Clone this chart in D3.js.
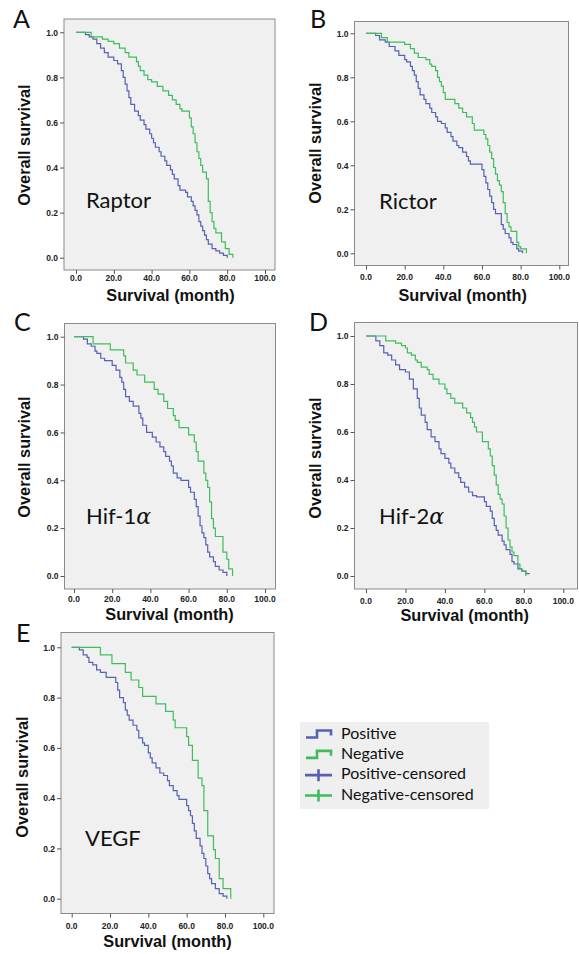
<!DOCTYPE html>
<html><head><meta charset="utf-8">
<script src="https://cdn.jsdelivr.net/npm/d3@7"></script>
<style>body{margin:0;background:#fff}svg{display:block}</style>
</head><body>
<svg id="c" width="579" height="954"></svg>
<script>
// ---------- data ----------
const panelLetters = ["A","B","C","D","E"];
const markerNames = ["Raptor","Rictor","Hif-1","Hif-2","VEGF"];
const xTicks = [0,20,40,60,80,100];
const yTicks = [0,0.2,0.4,0.6,0.8,1.0];
const legendLabels = ["Positive","Negative","Positive-censored","Negative-censored"];

const raptorPos = [[0,1],[5,0.99],[7,0.98],[9,0.97],[11,0.95],[13,0.93],[15,0.91],[17,0.89],[20,0.875],[22,0.86],[24,0.83],[25,0.80],[26,0.77],[27,0.74],[28,0.71],[29,0.68],[31,0.65],[33,0.63],[34,0.61],[36,0.59],[37,0.57],[39,0.55],[40,0.53],[41,0.51],[42,0.49],[44,0.47],[45,0.45],[47,0.43],[48,0.41],[50,0.39],[51,0.37],[52,0.35],[54,0.32],[55,0.30],[58,0.29],[59,0.27],[61,0.25],[62,0.23],[63,0.21],[64,0.19],[65,0.16],[66,0.14],[67,0.12],[68,0.10],[69,0.08],[70,0.06],[72,0.04],[74,0.03],[76,0.02],[78,0.01],[80,0.0]];
const raptorNeg = [[0,1],[8,0.98],[14,0.97],[17,0.96],[20,0.95],[23,0.93],[26,0.91],[28,0.89],[32,0.87],[33,0.85],[34,0.83],[36,0.81],[38,0.79],[40,0.78],[43,0.76],[46,0.74],[49,0.72],[51,0.70],[53,0.68],[55,0.66],[56,0.65],[60,0.62],[61,0.58],[62,0.55],[63,0.51],[64,0.47],[65,0.44],[66,0.41],[67,0.38],[69,0.35],[70,0.25],[71,0.20],[72,0.16],[73,0.13],[74,0.11],[77,0.07],[79,0.04],[81,0.015],[83,0.0]];
const rictorPos = [[0,1],[5,0.99],[7,0.97],[10,0.96],[12,0.94],[15,0.92],[17,0.90],[20,0.88],[21,0.87],[23,0.85],[24,0.83],[25,0.81],[26,0.78],[27,0.75],[28,0.72],[30,0.70],[31,0.68],[33,0.66],[34,0.64],[36,0.62],[37,0.60],[39,0.59],[41,0.57],[42,0.55],[44,0.53],[45,0.51],[47,0.49],[48,0.48],[50,0.46],[52,0.44],[53,0.42],[54,0.405],[60,0.38],[61,0.35],[62,0.32],[63,0.29],[64,0.26],[65,0.23],[66,0.20],[67,0.18],[70,0.13],[71,0.11],[72,0.09],[74,0.07],[75,0.05],[76,0.04],[78,0.02],[79,0.01],[81,0.0]];
const rictorNeg = [[0,1],[8,0.98],[11,0.96],[20,0.95],[23,0.93],[25,0.91],[27,0.89],[31,0.88],[33,0.86],[34,0.85],[36,0.83],[37,0.80],[38,0.78],[39,0.76],[40,0.73],[41,0.70],[46,0.68],[48,0.66],[50,0.64],[52,0.62],[55,0.59],[56,0.56],[61,0.54],[62,0.52],[63,0.49],[64,0.46],[65,0.43],[66,0.39],[67,0.36],[68,0.33],[69,0.31],[70,0.28],[71,0.23],[72,0.18],[73,0.14],[74,0.12],[75,0.10],[78,0.05],[79,0.03],[80,0.02],[83,0.0]];
const hif1Pos = [[0,1],[5,0.99],[7,0.97],[9,0.96],[11,0.94],[12,0.93],[14,0.91],[16,0.90],[20,0.88],[22,0.86],[24,0.83],[25,0.81],[26,0.78],[27,0.75],[29,0.73],[31,0.71],[34,0.68],[35,0.66],[36,0.63],[38,0.60],[41,0.58],[43,0.56],[45,0.54],[47,0.52],[48,0.50],[50,0.48],[51,0.46],[52,0.43],[54,0.41],[56,0.40],[60,0.37],[61,0.35],[63,0.32],[64,0.29],[65,0.25],[66,0.21],[67,0.18],[68,0.16],[69,0.13],[70,0.10],[71,0.08],[73,0.06],[74,0.04],[76,0.025],[78,0.015],[80,0.0]];
const hif1Neg = [[0,1],[10,0.97],[19,0.945],[26,0.92],[27,0.89],[31,0.86],[33,0.84],[37,0.81],[42,0.78],[44,0.76],[47,0.73],[49,0.70],[52,0.67],[53,0.65],[55,0.62],[60,0.59],[63,0.56],[64,0.52],[65,0.48],[68,0.43],[69,0.40],[70,0.37],[71,0.31],[72,0.24],[73,0.20],[74,0.165],[78,0.10],[80,0.07],[81,0.03],[83,0.0]];
const hif2Pos = [[0,1],[5,0.98],[7,0.96],[9,0.93],[11,0.92],[13,0.90],[15,0.88],[17,0.86],[20,0.85],[22,0.82],[24,0.78],[26,0.74],[27,0.70],[28,0.67],[30,0.64],[31,0.61],[33,0.58],[35,0.56],[37,0.53],[38,0.51],[40,0.49],[42,0.47],[43,0.45],[45,0.43],[47,0.41],[48,0.39],[50,0.37],[52,0.35],[54,0.335],[56,0.33],[60,0.31],[61,0.29],[63,0.27],[64,0.24],[65,0.21],[66,0.19],[67,0.17],[69,0.145],[70,0.13],[71,0.11],[73,0.09],[74,0.06],[75,0.05],[77,0.03],[79,0.02],[81,0.01],[83,0.01]];
const hif2Neg = [[0,1],[10,0.98],[15,0.97],[18,0.96],[20,0.95],[21,0.93],[23,0.92],[25,0.90],[26,0.89],[28,0.87],[31,0.86],[32,0.84],[34,0.82],[37,0.80],[40,0.78],[41,0.76],[43,0.74],[45,0.72],[49,0.70],[51,0.68],[53,0.66],[54,0.64],[55,0.62],[56,0.60],[59,0.56],[62,0.53],[63,0.50],[64,0.46],[65,0.42],[66,0.38],[67,0.34],[68,0.32],[69,0.30],[70,0.25],[71,0.20],[72,0.15],[73,0.12],[74,0.10],[75,0.085],[77,0.05],[78,0.03],[79,0.02],[81,0.0]];
const vegfPos = [[0,1],[4,0.99],[6,0.97],[8,0.96],[9,0.94],[11,0.93],[13,0.91],[15,0.90],[18,0.88],[23,0.86],[24,0.83],[25,0.80],[27,0.78],[28,0.75],[29,0.73],[30,0.71],[32,0.69],[34,0.67],[35,0.64],[37,0.62],[38,0.61],[40,0.58],[41,0.56],[42,0.54],[44,0.52],[46,0.50],[48,0.49],[50,0.47],[51,0.45],[53,0.43],[55,0.41],[56,0.395],[60,0.37],[61,0.35],[62,0.33],[63,0.30],[64,0.27],[65,0.24],[67,0.21],[68,0.18],[69,0.16],[70,0.13],[71,0.10],[72,0.08],[73,0.06],[75,0.04],[77,0.02],[79,0.01],[81,0.0]];
const vegfNeg = [[0,1],[15,0.97],[21,0.935],[28,0.90],[31,0.87],[35,0.84],[37,0.805],[44,0.775],[49,0.745],[53,0.71],[54,0.68],[60,0.645],[61,0.61],[63,0.55],[66,0.48],[68,0.45],[69,0.35],[71,0.25],[74,0.195],[75,0.16],[77,0.08],[79,0.04],[83,0.0]];

const positiveSeries = [raptorPos, rictorPos, hif1Pos, hif2Pos, vegfPos];
const negativeSeries = [raptorNeg, rictorNeg, hif1Neg, hif2Neg, vegfNeg];

// ---------- layout ----------
const BLUE = "#5660b4", GREEN = "#3fbd5c";
const layout = [
  {box:[64,19,275,270], x:[76,265], y:[257.7,32.3], tickY:281, titleY:301, ytX:26, ytY:145, lab:[13,28], txt:[86,208]},
  {box:[354.5,21.5,568.5,265.5], x:[366,559.3], y:[253.3,33.3], tickY:280, titleY:301, ytX:317, ytY:143, lab:[310,28], txt:[379,209]},
  {box:[64.5,323.5,275.5,589], x:[74,265], y:[576,336.7], tickY:602, titleY:620, ytX:26, ytY:457, lab:[14,331], txt:[86,524]},
  {box:[354.5,322.5,577.5,589], x:[366,563.3], y:[576,336], tickY:604, titleY:621, ytX:317, ytY:458, lab:[309,331], txt:[379,524]},
  {box:[61,632.5,274,913.5], x:[71.7,263.3], y:[898.7,647.3], tickY:929, titleY:947, ytX:24, ytY:777, lab:[16,642], txt:[85,846]}
];

const svg = d3.select("#c");
const fmt = d3.format(".1f");

panelLetters.forEach((L,i)=>{
  const lo = layout[i];
  const g = svg.append("g");
  const [x0,y0,x1,y1] = lo.box;
  g.append("rect").attr("x",x0).attr("y",y0).attr("width",x1-x0).attr("height",y1-y0)
    .attr("fill","#f0f0f0").attr("stroke","#8a8a8a").attr("stroke-width",1);
  const xs = d3.scaleLinear().domain([0,100]).range(lo.x);
  const ys = d3.scaleLinear().domain([0,1]).range(lo.y);

  const xa = g.append("g").attr("transform",`translate(0,${y1})`)
    .call(d3.axisBottom(xs).tickValues(xTicks).tickFormat(fmt).tickSize(4).tickPadding(3));
  xa.select(".domain").remove();
  xa.selectAll("line").attr("stroke","#555");
  xa.selectAll("text").remove();
  xTicks.forEach(t=>{
    g.append("text").attr("x",xs(t)).attr("y",lo.tickY).attr("text-anchor","middle")
      .attr("font-family","Liberation Sans Narrow, Liberation Sans, Arial").attr("font-weight","bold")
      .attr("font-size",8.5).attr("fill","#222").text(fmt(t));
  });
  const ya = g.append("g").attr("transform",`translate(${x0},0)`)
    .call(d3.axisLeft(ys).tickValues(yTicks).tickFormat(fmt).tickSize(4).tickPadding(2));
  ya.select(".domain").remove();
  ya.selectAll("line").attr("stroke","#555");
  ya.selectAll("text").attr("font-family","Liberation Sans Narrow, Liberation Sans, Arial")
    .attr("font-weight","bold").attr("font-size",8.5).attr("fill","#222");

  const line = d3.line().x(d=>xs(d[0])).y(d=>ys(d[1])).curve(d3.curveStepAfter);
  g.append("path").datum(positiveSeries[i]).attr("d",line).attr("fill","none")
    .attr("stroke",BLUE).attr("stroke-width",1.2);
  g.append("path").datum(negativeSeries[i]).attr("d",line).attr("fill","none")
    .attr("stroke",GREEN).attr("stroke-width",1.2);

  g.append("text").attr("x",(lo.x[0]+lo.x[1])/2).attr("y",lo.titleY).attr("text-anchor","middle")
    .attr("font-family","Liberation Sans, Arial").attr("font-weight","bold").attr("font-size",16.3)
    .attr("fill","#111").text("Survival (month)");
  g.append("text").attr("transform",`translate(${lo.ytX},${lo.ytY}) rotate(-90)`)
    .attr("text-anchor","middle").attr("dominant-baseline","middle")
    .attr("font-family","Liberation Sans, Arial").attr("font-weight","bold").attr("font-size",16.3)
    .attr("fill","#111").text("Overall survival");
  g.append("text").attr("x",lo.lab[0]).attr("y",lo.lab[1])
    .attr("font-family","Lato, Open Sans, sans-serif").attr("font-size",25).attr("fill","#111").text(L);
  const t = g.append("text").attr("x",lo.txt[0]).attr("y",lo.txt[1])
    .attr("font-family","Lato, Open Sans, sans-serif").attr("font-size",22).attr("fill","#111")
    .text(markerNames[i]);
  if (i===2 || i===3) t.append("tspan").attr("font-family","DejaVu Serif, serif").attr("font-style","italic").attr("font-size",22).text("α");
});

// ---------- legend ----------
const lg = svg.append("g");
lg.append("rect").attr("x",300).attr("y",722).attr("width",189).attr("height",87).attr("fill","#efefef");
const legColors = [BLUE, GREEN, BLUE, GREEN];
const legY = d3.scalePoint().domain(legendLabels).range([734.5,795.5]);
legendLabels.forEach((lab,k)=>{
  const cy = legY(lab), c = legColors[k];
  if (k<2) {
    lg.append("path").attr("d",`M306,${cy+3}H317V${cy-4}H331V${cy+1}`).attr("fill","none")
      .attr("stroke",c).attr("stroke-width",2.6);
  } else {
    lg.append("path").attr("d",`M305,${cy}H332M318.5,${cy-6}V${cy+6}`).attr("fill","none")
      .attr("stroke",c).attr("stroke-width",2.6);
  }
  lg.append("text").attr("x",341).attr("y",cy).attr("dominant-baseline","middle")
    .attr("font-family","Lato, Open Sans, sans-serif").attr("font-size",16).attr("fill","#111").text(lab);
});
</script>
</body></html>
